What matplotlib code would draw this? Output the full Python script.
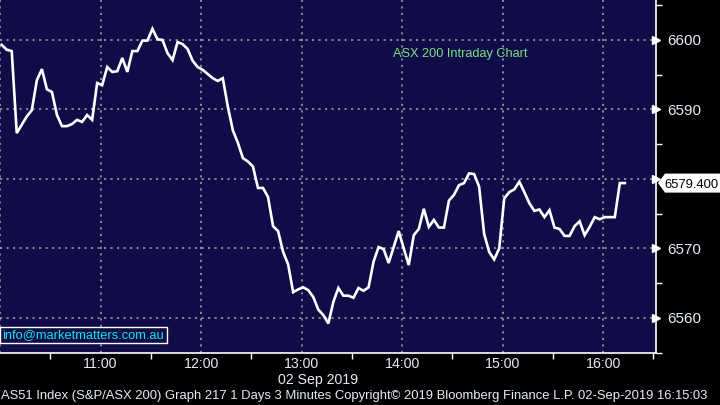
import matplotlib
matplotlib.use("Agg")
import matplotlib.pyplot as plt
import matplotlib.transforms as mtransforms
from matplotlib.patches import Polygon
import numpy as np

# ---- data (ASX 200, 3-minute bars, 02 Sep 2019) ----
prices = [
    6599.3, 6598.6, 6598.4, 6586.6, 6587.8, 6589.0, 6589.9, 6594.2, 6595.8, 6592.9,
    6592.5, 6589.2, 6587.6, 6587.6, 6587.9, 6588.5, 6588.2, 6589.2, 6588.5, 6593.8,
    6593.5, 6596.1, 6595.4, 6595.5, 6597.4, 6595.4, 6598.4, 6598.4, 6599.9, 6599.9,
    6601.6, 6600.1, 6600.0, 6598.1, 6597.1, 6599.7, 6599.4, 6598.7, 6597.0, 6596.1,
    6595.7, 6595.1, 6594.5, 6594.1, 6594.5, 6590.4, 6587.0, 6585.2, 6583.0, 6582.5,
    6581.8, 6578.7, 6578.7, 6577.4, 6573.2, 6572.5, 6569.5, 6567.7, 6563.7, 6564.1,
    6564.4, 6564.0, 6563.0, 6561.2, 6560.4, 6559.2, 6562.3, 6564.3, 6563.2, 6563.2,
    6562.9, 6564.3, 6563.9, 6564.4, 6568.1, 6570.2, 6569.9, 6567.9, 6570.2, 6572.5,
    6570.0, 6567.6, 6571.9, 6572.8, 6575.7, 6573.1, 6574.1, 6573.0, 6573.0, 6576.9,
    6577.7, 6579.1, 6579.4, 6580.8, 6580.7, 6578.9, 6572.1, 6569.5, 6568.4, 6570.0,
    6577.2, 6578.1, 6578.5, 6579.6, 6578.1, 6576.5, 6575.4, 6575.6, 6574.5, 6575.5,
    6573.0, 6572.8, 6571.8, 6571.8, 6573.2, 6573.9, 6571.9, 6573.1, 6574.5, 6574.2,
    6574.5, 6574.5, 6574.5, 6579.4, 6579.4,
]
bar_minutes = 3
first_bar_minute = 1          # minutes after 10:00
last_price = 6579.400

x_tick_hours = [11, 12, 13, 14, 15, 16]
x_tick_labels = ["11:00", "12:00", "13:00", "14:00", "15:00", "16:00"]
y_ticks = [6560, 6570, 6580, 6590, 6600]
y_tick_labels = ["6560", "6570", "", "6590", "6600"]   # 6580 hidden by last-price tag
y_minor = [6555, 6565, 6575, 6585, 6595, 6605]

title_text = "ASX 200 Intraday Chart"
date_text = "02 Sep 2019"
email_text = "info@marketmatters.com.au"
footer_text = ("AS51 Index (S&P/ASX 200) Graph 217 1 Days 3 Minutes Copyright\u00a9 2019 "
               "Bloomberg Finance L.P. 02-Sep-2019 16:15:03")

# ---- style ----
NAVY = "#0f0c47"
GRID = "#9a9aa8"
TXT = "#e6ecf5"
FONT = ["Liberation Sans", "DejaVu Sans"]

fig = plt.figure(figsize=(7.2, 4.05), dpi=100, facecolor="black")
ax = fig.add_axes([0.0, 1 - 353 / 405, 656 / 720, 353 / 405])
ax.set_facecolor(NAVY)

t = first_bar_minute + bar_minutes * np.arange(len(prices))
ax.plot(t, prices, color="white", lw=1.9, zorder=3, solid_joinstyle="miter")

ax.set_xlim(0, 391.6)
ax.set_ylim(6554.95, 6605.75)

# grid
for h in [10] + x_tick_hours:
    ax.axvline((h - 10) * 60, color=GRID, lw=1.2, ls=(0, (1.3, 2.6)), zorder=1)
for v in y_ticks:
    ax.axhline(v, color=GRID, lw=1.2, ls=(0, (1.3, 2.6)), zorder=1)

# spines
for s in ["left", "top"]:
    ax.spines[s].set_visible(False)
for s in ["right", "bottom"]:
    ax.spines[s].set_color("white")
    ax.spines[s].set_linewidth(1.2)

# x ticks
ax.set_xticks([(h - 10) * 60 for h in x_tick_hours])
ax.set_xticklabels(x_tick_labels, fontsize=10.2, color=TXT, family=FONT)
ax.set_xticks([(h - 10) * 60 + 30 for h in [10] + x_tick_hours], minor=True)
ax.tick_params(axis="x", which="major", length=0, pad=3)
ax.tick_params(axis="x", which="minor", length=4, color="white", width=1, direction="out")

# y ticks on right
ax.yaxis.tick_right()
ax.set_yticks(y_ticks)
ax.set_yticklabels(y_tick_labels, fontsize=11, color=TXT, family=FONT)
ax.set_yticks(y_minor, minor=True)
ax.tick_params(axis="y", which="major", length=0, pad=8)
ax.tick_params(axis="y", which="minor", length=4, color="white", width=1, direction="out")
tr = mtransforms.blended_transform_factory(ax.transAxes, ax.transData)
ax.plot([1.0] * len(y_ticks), y_ticks, ls="none", marker=">", ms=5.5, color="white",
        transform=tr, clip_on=False, zorder=5)

# last price label (arrow-shaped white box anchored at the right axis)
anchor = fig.dpi_scale_trans + mtransforms.ScaledTranslation(1.0, last_price, tr)
px = 1 / 100.0
verts = [(2 * px, 0), (9 * px, 9.5 * px), (80 * px, 9.5 * px),
         (80 * px, -9.5 * px), (9 * px, -9.5 * px)]
poly = Polygon(verts, closed=True, transform=anchor, fc="white", ec="none", zorder=10)
fig.add_artist(poly)
fig.text(8 * px, 0, f"{last_price:.3f}", transform=anchor, fontsize=9.4, family=FONT,
         color="black", va="center_baseline", ha="left", zorder=11)

# title
ax.text(393 / 656, 1 - 54 / 353, title_text, transform=ax.transAxes, fontsize=9.2,
        family=FONT, color="#7fe08a", va="center", ha="left")

# email box
ax.text(2.5 / 656, 1 - 335 / 353, email_text, transform=ax.transAxes, fontsize=9.3,
        family=FONT, color="#16e3e8", va="center", ha="left", zorder=6,
        bbox=dict(boxstyle="square,pad=0.18", fc=NAVY, ec="white", lw=1))

# date and footer
fig.text(318 / 720, 1 - 380 / 405, date_text, fontsize=10.2, family=FONT, color=TXT,
         ha="center", va="center")
fig.text(1 / 720, 1 - 396 / 405, footer_text, fontsize=9.35, family=FONT, color=TXT,
         ha="left", va="center")

fig.savefig("out.png", dpi=100, facecolor="black")
